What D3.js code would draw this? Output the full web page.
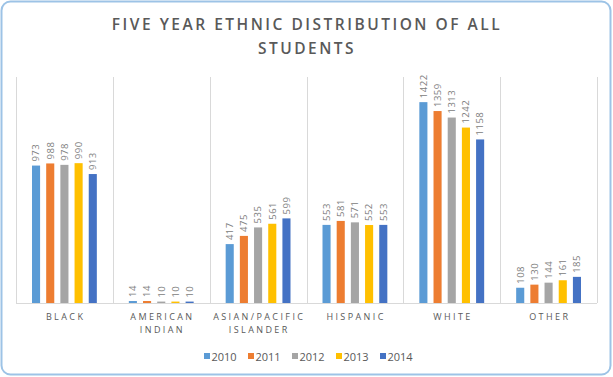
<!DOCTYPE html>
<html>
<head>
<meta charset="utf-8">
<script src="https://cdn.jsdelivr.net/npm/d3@7"></script>
<style>
  body { margin: 0; background: #fff; }
  text { font-family: "Open Sans", "Noto Sans", sans-serif; }
</style>
</head>
<body>
<svg id="svg"></svg>
<script>
//data

let categories = ["BLACK", "AMERICAN INDIAN", "ASIAN/PACIFIC ISLANDER", "HISPANIC", "WHITE", "OTHER"];
let years = ["2010", "2011", "2012", "2013", "2014"];
let colors = ["#5b9bd5", "#ed7d31", "#a5a5a5", "#ffc000", "#4472c4"];

let values2010 = [973, 14, 417, 553, 1422, 108];
let values2011 = [988, 14, 475, 581, 1359, 130];
let values2012 = [978, 10, 535, 571, 1313, 144];
let values2013 = [990, 10, 561, 552, 1242, 161];
let values2014 = [913, 10, 599, 553, 1158, 185];
let series = [values2010, values2011, values2012, values2013, values2014];

// label lines (wrapped as in the original)
let categoryLines = [["BLACK"], ["AMERICAN", "INDIAN"], ["ASIAN/PACIFIC", "ISLANDER"], ["HISPANIC"], ["WHITE"], ["OTHER"]];

//variables

let width = 613;
let height = 377;
let svg = d3.select("#svg");

let plotLeft = 16;
let plotRight = 597;
let plotTop = 77;
let plotBottom = 303;

let xScale;
let xInner;
let yScale;

//functions

let makeBackground = () => {
  svg.attr("width", width).attr("height", height);

  svg.append("rect")
    .attr("x", 1.5)
    .attr("y", 1.5)
    .attr("width", width - 4)
    .attr("height", height - 4)
    .attr("rx", 9)
    .attr("fill", "#fff")
    .attr("stroke", "#9dc3e6")
    .attr("stroke-width", 2);

  let title = svg.append("text")
    .attr("text-anchor", "middle")
    .attr("fill", "#595959")
    .style("font-size", "15.5px")
    .style("font-weight", 600)
    .style("letter-spacing", "2.5px");
  title.append("tspan").attr("x", 307).attr("y", 29.5).text("FIVE YEAR ETHNIC DISTRIBUTION OF ALL");
  title.append("tspan").attr("x", 307).attr("y", 54).text("STUDENTS");
}

let scaleFunction = () => {
  xScale = d3.scaleBand()
    .domain(categories)
    .range([plotLeft, plotRight])
    .paddingInner(0)
    .paddingOuter(0);

  xInner = d3.scaleBand()
    .domain(years)
    .range([16, xScale.bandwidth() - 16])
    .paddingInner(0.43)
    .paddingOuter(0);

  yScale = d3.scaleLinear()
    .domain([0, 1600])
    .range([plotBottom, plotTop]);
}

let makeAxes = () => {
  // vertical separators between categories
  let edges = categories.map((c) => xScale(c)).concat([plotRight]);
  svg.append("g")
    .selectAll("line")
    .data(edges)
    .enter()
    .append("line")
    .attr("x1", (d) => Math.round(d) + 0.5)
    .attr("x2", (d) => Math.round(d) + 0.5)
    .attr("y1", plotTop)
    .attr("y2", plotBottom)
    .attr("stroke", "#d9d9d9")
    .attr("stroke-width", 1);

  svg.append("line")
    .attr("x1", plotLeft)
    .attr("x2", plotRight)
    .attr("y1", yScale(0) + 0.5)
    .attr("y2", yScale(0) + 0.5)
    .attr("stroke", "#d9d9d9");

  let labels = svg.append("g")
    .selectAll("text")
    .data(categories)
    .enter()
    .append("text")
    .attr("text-anchor", "middle")
    .attr("fill", "#595959")
    .style("font-size", "9px")
    .style("letter-spacing", "2.4px");

  labels.each(function (d, i) {
    let t = d3.select(this);
    categoryLines[i].forEach((line, k) => {
      t.append("tspan")
        .attr("x", xScale(d) + xScale.bandwidth() / 2 + 1.2)
        .attr("y", 320 + k * 13)
        .text(line);
    });
  });
}

let makeGraph = () => {
  let groups = svg.append("g")
    .selectAll("g")
    .data(series)
    .enter()
    .append("g")
    .attr("fill", (d, i) => colors[i]);

  groups.each(function (vals, si) {
    let g = d3.select(this);
    g.selectAll("rect")
      .data(vals)
      .enter()
      .append("rect")
      .attr("x", (d, i) => xScale(categories[i]) + xInner(years[si]))
      .attr("y", (d) => yScale(d))
      .attr("width", xInner.bandwidth())
      .attr("height", (d) => yScale(0) - yScale(d));

    g.selectAll("text")
      .data(vals)
      .enter()
      .append("text")
      .attr("transform", (d, i) => {
        let cx = xScale(categories[i]) + xInner(years[si]) + xInner.bandwidth() / 2 + 3.3;
        return "translate(" + cx + "," + (yScale(d) - 4) + ") rotate(-90)";
      })
      .attr("fill", "#808080")
      .style("font-size", "9.5px")
      .style("letter-spacing", "0.5px")
      .text((d) => d);
  });
}

let makeLegend = () => {
  let legend = svg.append("g")
    .selectAll("g")
    .data(years)
    .enter()
    .append("g")
    .attr("transform", (d, i) => "translate(" + (204 + i * 44) + ",352)");

  legend.append("rect")
    .attr("width", 6)
    .attr("height", 6)
    .attr("y", 1)
    .attr("fill", (d, i) => colors[i]);

  legend.append("text")
    .attr("x", 7.5)
    .attr("y", 8.5)
    .attr("fill", "#595959")
    .style("font-size", "11px")
    .text((d) => d);
}

makeBackground();
scaleFunction();
makeAxes();
makeGraph();
makeLegend();
</script>
</body>
</html>
